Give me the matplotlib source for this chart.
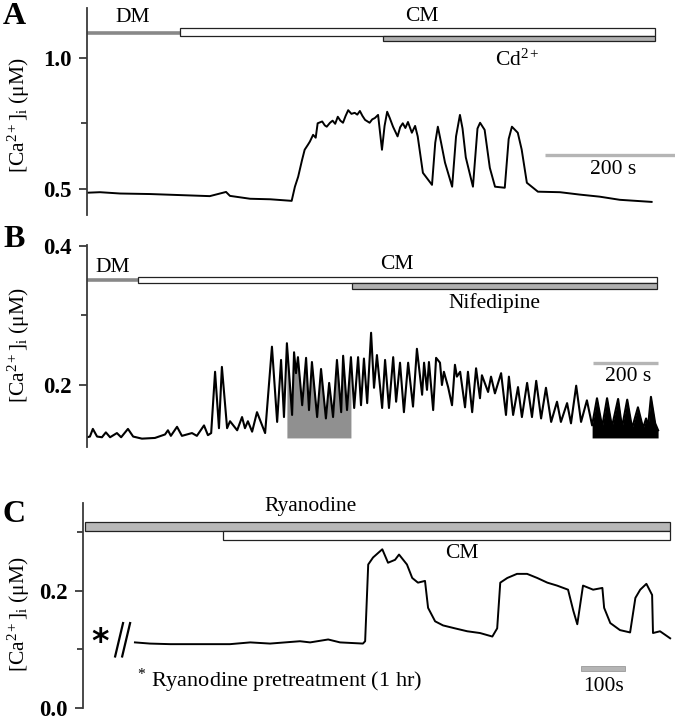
import numpy as np
import matplotlib
matplotlib.use("Agg")
import matplotlib.pyplot as plt
from matplotlib.patches import Rectangle

plt.rcParams['font.family'] = ['Liberation Serif', 'DejaVu Serif']
plt.rcParams['mathtext.fontset'] = 'custom'
plt.rcParams['mathtext.rm'] = 'Liberation Serif'
plt.rcParams['mathtext.it'] = 'Liberation Serif:italic'
plt.rcParams['mathtext.bf'] = 'Liberation Serif:bold'

# ---------------- Panel A data (time s, [Ca2+]i uM) ----------------
tA = [0, 20, 51, 97, 143, 189, 214, 220, 251, 282, 315, 320, 325, 331, 335, 340, 343,
      348, 352, 355, 362, 366, 369, 374, 378, 382, 386, 390, 394, 398, 402, 407, 412,
      416, 420, 424, 428, 435, 439, 443, 448, 454, 458, 462, 466, 471, 478, 482, 486,
      490, 494, 500, 505, 509, 517, 531, 536, 540, 545, 551, 562, 568, 574, 578, 583,
      594, 601, 605, 612, 620, 628, 643, 649, 654, 663, 669, 677, 694, 728, 758, 789,
      820, 869]
cA = [0.485, 0.487, 0.482, 0.480, 0.476, 0.472, 0.488, 0.473, 0.462, 0.460, 0.454,
      0.508, 0.546, 0.610, 0.649, 0.668, 0.680, 0.706, 0.695, 0.750, 0.757, 0.742,
      0.737, 0.752, 0.760, 0.748, 0.775, 0.760, 0.752, 0.778, 0.800, 0.786, 0.790,
      0.783, 0.797, 0.778, 0.763, 0.752, 0.765, 0.770, 0.782, 0.649, 0.740, 0.794,
      0.770, 0.737, 0.700, 0.735, 0.750, 0.732, 0.755, 0.714, 0.740, 0.700, 0.561,
      0.515, 0.676, 0.737, 0.676, 0.600, 0.508, 0.700, 0.782, 0.730, 0.620, 0.508,
      0.730, 0.752, 0.725, 0.580, 0.508, 0.504, 0.690, 0.737, 0.714, 0.650, 0.523,
      0.489, 0.487, 0.478, 0.470, 0.458, 0.450]
A_bars = {"DM": (0, 143), "CM": (143, 874), "Cd": (455, 874)}

# ---------------- Panel B data ----------------
tB = [0, 9, 18, 31, 46, 58, 71, 92, 105, 126, 142, 169, 209, 240, 249, 258, 277, 292,
      323, 338, 360, 372, 382, 394, 406, 415, 431, 440, 462, 477, 486, 495, 508, 523,
      548, 569, 585, 597, 606, 615, 631, 637, 643, 649, 662, 674, 683, 692, 708, 720,
      735, 745, 757, 769, 782, 788, 800, 812, 822, 834, 843, 852, 862, 874, 883, 892,
      908, 917, 929, 942, 951, 963, 975, 988, 1003, 1015, 1031, 1037, 1046, 1052, 1065,
      1074, 1086, 1092, 1098, 1111, 1123, 1132, 1138, 1148, 1163, 1172, 1185, 1197,
      1209, 1215, 1234, 1243, 1255, 1274, 1289, 1298, 1311, 1326, 1338, 1354, 1369,
      1382, 1397, 1412, 1428, 1446, 1458, 1477, 1489, 1505, 1520, 1538, 1554, 1569,
      1585, 1600, 1615, 1634, 1646, 1662, 1677, 1695, 1711, 1720, 1726, 1735, 1748, 1757]
cB = [0.125, 0.126, 0.137, 0.126, 0.125, 0.132, 0.125, 0.131, 0.125, 0.137, 0.126,
      0.123, 0.124, 0.129, 0.135, 0.127, 0.140, 0.127, 0.131, 0.127, 0.142, 0.128,
      0.131, 0.219, 0.138, 0.226, 0.138, 0.148, 0.135, 0.154, 0.138, 0.148, 0.133,
      0.161, 0.131, 0.255, 0.147, 0.236, 0.154, 0.260, 0.157, 0.247, 0.217, 0.240,
      0.171, 0.239, 0.164, 0.233, 0.154, 0.223, 0.152, 0.203, 0.154, 0.236, 0.161,
      0.242, 0.164, 0.240, 0.167, 0.240, 0.171, 0.238, 0.174, 0.275, 0.196, 0.243,
      0.167, 0.236, 0.167, 0.240, 0.176, 0.232, 0.161, 0.232, 0.169, 0.252, 0.186,
      0.232, 0.193, 0.233, 0.164, 0.239, 0.232, 0.200, 0.219, 0.197, 0.171, 0.229,
      0.212, 0.219, 0.168, 0.219, 0.161, 0.224, 0.181, 0.214, 0.190, 0.212, 0.188,
      0.217, 0.157, 0.212, 0.157, 0.197, 0.154, 0.203, 0.154, 0.206, 0.152, 0.196,
      0.147, 0.176, 0.147, 0.174, 0.145, 0.199, 0.147, 0.178, 0.142, 0.181, 0.140,
      0.181, 0.140, 0.180, 0.139, 0.179, 0.138, 0.168, 0.138, 0.152, 0.140, 0.183,
      0.145, 0.135]
B_bars = {"DM": (0, 157), "CM": (157, 1754), "Nif": (815, 1754)}
B_gray = (615, 815)
B_black = (1554, 1757)
B_base = 0.124

# ---------------- Panel C data ----------------
tC = [118, 152, 198, 266, 334, 380, 425, 493, 516, 557, 584, 636, 641, 648, 659, 680,
      693, 709, 718, 736, 748, 761, 777, 784, 800, 818, 845, 873, 902, 930, 941, 948,
      964, 986, 1009, 1032, 1055, 1077, 1102, 1114, 1123, 1136, 1159, 1180, 1184, 1198,
      1220, 1243, 1255, 1266, 1280, 1293, 1295, 1311, 1334]
cC = [0.112, 0.110, 0.109, 0.109, 0.109, 0.112, 0.110, 0.114, 0.112, 0.117, 0.112,
      0.110, 0.114, 0.245, 0.257, 0.271, 0.248, 0.253, 0.262, 0.245, 0.222, 0.214,
      0.217, 0.171, 0.148, 0.141, 0.136, 0.131, 0.128, 0.122, 0.136, 0.214, 0.222,
      0.229, 0.229, 0.222, 0.214, 0.209, 0.202, 0.166, 0.143, 0.209, 0.202, 0.205,
      0.171, 0.145, 0.133, 0.129, 0.188, 0.202, 0.212, 0.193, 0.128, 0.131, 0.119]
C_bars = {"Rya": (4, 1334), "CM": (318, 1334)}

W, H = 675, 720
fig = plt.figure(figsize=(W / 100, H / 100), dpi=100)


def axes_px(left, top, right, bottom):
    return fig.add_axes([left / W, 1 - bottom / H, (right - left) / W, (bottom - top) / H])


axis_col = '#3a3a3a'
FS = 15.5


def style(ax, major, minor, fmt):
    for s in ['top', 'right', 'bottom']:
        ax.spines[s].set_visible(False)
    ax.spines['left'].set_color(axis_col)
    ax.spines['left'].set_linewidth(1.3)
    ax.set_xticks([])
    ax.set_yticks(major)
    ax.set_yticklabels([fmt % v for v in major], fontweight='bold', fontsize=16.5)
    ax.set_yticks(minor, minor=True)
    ax.tick_params(axis='y', which='major', length=6, width=1.3, color=axis_col, pad=5)
    ax.tick_params(axis='y', which='minor', length=4, width=1.3, color=axis_col)
    ax.patch.set_alpha(0)


def box(ax, x0, x1, y0, y1, fc, ec='#222222', lw=0.9):
    ax.add_patch(Rectangle((x0, y0), x1 - x0, y1 - y0, facecolor=fc, edgecolor=ec,
                           linewidth=lw, clip_on=False, zorder=3))


ylab = "[Ca$^{2+}$]$_{\\mathrm{i}}$ (μM)"

# ---------------- Panel A ----------------
axA = axes_px(87, 8, 675, 215)
axA.plot(tA, cA, color='black', lw=1.4)
axA.set_xlim(0, 905)
axA.set_ylim(0.40, 1.19)
style(axA, [0.5, 1.0], [0.75], '%.1f')
axA.plot(A_bars["DM"], [1.096, 1.096], color='#888888', lw=2.6, solid_capstyle='butt', clip_on=False)
box(axA, *A_bars["CM"], 1.084, 1.115, 'white')
box(axA, *A_bars["Cd"], 1.065, 1.084, '#b0b0b0')
axA.text(71, 1.155, "DM", ha='center', va='center', fontsize=FS)
axA.text(515, 1.158, "CM", ha='center', va='center', fontsize=FS)
axA.text(662, 0.99, "Cd$^{2+}$", ha='center', va='center', fontsize=FS)
axA.plot([705, 905], [0.63, 0.63], color='#b5b5b5', lw=2.4, solid_capstyle='butt', clip_on=False)
axA.text(809, 0.572, "200 s", ha='center', va='center', fontsize=FS)

# ---------------- Panel B ----------------
axB = axes_px(87, 245, 675, 447)
tB_a = np.array(tB)
cB_a = np.array(cB)
m = (tB_a >= B_gray[0]) & (tB_a <= B_gray[1])
axB.fill_between(tB_a[m], cB_a[m], B_base, color='#909090', lw=0, zorder=1)
m2 = (tB_a >= B_black[0]) & (tB_a <= B_black[1])
axB.fill_between(tB_a[m2], cB_a[m2], B_base, color='black', lw=0, zorder=1)
axB.plot(tB, cB, color='black', lw=1.5, zorder=2)
axB.set_xlim(0, 1809)
axB.set_ylim(0.111, 0.401)
style(axB, [0.2, 0.4], [0.3], '%.1f')
axB.plot(B_bars["DM"], [0.3505, 0.3505], color='#888888', lw=2.6, solid_capstyle='butt', clip_on=False)
box(axB, *B_bars["CM"], 0.3468, 0.3554, 'white')
box(axB, *B_bars["Nif"], 0.3385, 0.3468, '#b0b0b0')
axB.text(80, 0.369, "DM", ha='center', va='center', fontsize=FS)
axB.text(954, 0.373, "CM", ha='center', va='center', fontsize=FS)
axB.text(1255, 0.318, "Nifedipine", ha='center', va='center', fontsize=FS)
axB.plot([1557, 1757], [0.232, 0.232], color='#b5b5b5', lw=2.4, solid_capstyle='butt', clip_on=False)
axB.text(1665, 0.212, "200 s", ha='center', va='center', fontsize=FS)

# ---------------- Panel C ----------------
axC = axes_px(83, 503, 675, 708)
axC.plot(tC, cC, color='black', lw=1.4)
axC.set_xlim(0, 1345)
axC.set_ylim(0.0, 0.35)
style(axC, [0.0, 0.2], [0.1, 0.3], '%.1f')
box(axC, *C_bars["Rya"], 0.302, 0.317, '#b8b8b8')
box(axC, *C_bars["CM"], 0.286, 0.302, 'white')
axC.text(516, 0.344, "Ryanodine", ha='center', va='center', fontsize=FS)
axC.text(861, 0.264, "CM", ha='center', va='center', fontsize=FS)
axC.add_patch(Rectangle((1132, 0.064), 100, 0.008, facecolor='#b5b5b5', edgecolor='#999999',
                        lw=0.6, clip_on=False))
axC.text(1182, 0.036, "100s", ha='center', va='center', fontsize=FS)
axC.text(123, 0.047, "$^{*}$ Ryanodine pretreatment (1 hr)", ha='left', va='center', fontsize=FS + 0.5)
axC.text(39, 0.112, "*", ha='center', va='center', fontsize=24, fontweight='bold',
         family='DejaVu Sans')
axC.plot([73, 91], [0.088, 0.145], color='black', lw=1.6)
axC.plot([89, 107], [0.088, 0.145], color='black', lw=1.6)

# y labels and panel letters
for yc in [115, 345, 614]:
    fig.text(19 / W, 1 - yc / H, ylab, rotation=90, ha='center', va='center', fontsize=15.5)
for lab, yc in [("A", 17), ("B", 240), ("C", 515)]:
    fig.text(14 / W, 1 - yc / H, lab, ha='center', va='center', fontsize=23, fontweight='bold')

fig.savefig("out.png", dpi=100)
